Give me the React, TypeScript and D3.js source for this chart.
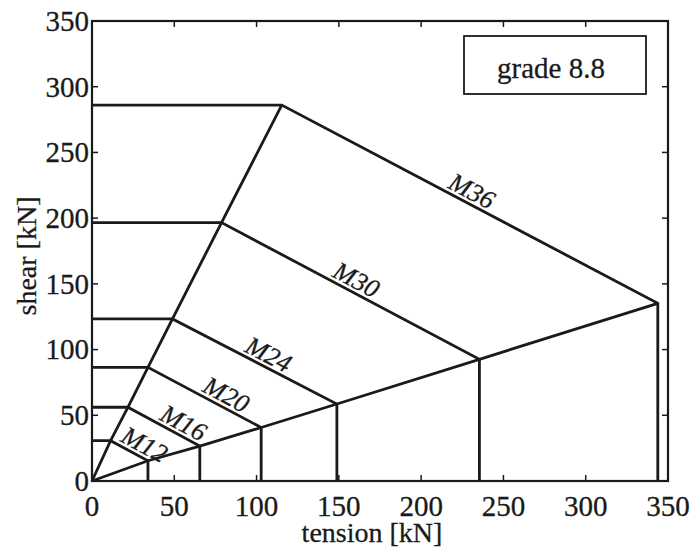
import React from "react";
import * as d3 from "d3";

// Bolt sizes (grade 8.8) and interaction-diagram values
const bolts = ["M12", "M16", "M20", "M24", "M30", "M36"];
// pure-shear capacity (horizontal plateau level) [kN]
const shearMax = [30.7, 56.1, 86.5, 123.3, 196.6, 286];
// tension at the end of the shear plateau [kN]
const kneeTension = [11.3, 21.8, 34, 48.9, 78.7, 115.3];
// pure-tension capacity [kN]
const tensionMax = [34, 65.5, 102.8, 148.8, 235.4, 343.8];
// shear remaining at the tension capacity [kN]
const shearAtTensionMax = [15.4, 26.6, 40.7, 58.6, 92.6, 135.2];

const xTicks = [0, 50, 100, 150, 200, 250, 300, 350];
const yTicks = [0, 50, 100, 150, 200, 250, 300, 350];
const legendText = "grade 8.8";
const xLabel = "tension [kN]";
const yLabel = "shear [kN]";

// layout
const W = 695;
const H = 551;
const L = 92;
const R = 668;
const T = 21;
const B = 481;
const labelFrac = [0.75, 0.69, 0.64, 0.55, 0.5, 0.49];
const labelOffset = 12.5;

const ink = "#1a1a1a";
const serif = "'Liberation Serif', 'DejaVu Serif', serif";

export default function App() {
  const x = d3.scaleLinear().domain([0, 350]).range([L, R]);
  const y = d3.scaleLinear().domain([0, 350]).range([B, T]);
  const line = d3
    .line<[number, number]>()
    .x((d) => x(d[0]))
    .y((d) => y(d[1]));

  const upperRay: [number, number][] = [[0, 0], ...bolts.map((_, i) => [kneeTension[i], shearMax[i]] as [number, number])];
  const lowerRay: [number, number][] = [[0, 0], ...bolts.map((_, i) => [tensionMax[i], shearAtTensionMax[i]] as [number, number])];

  const tick = 6;

  return (
    <svg
      width={W}
      height={H}
      style={{ position: "absolute", left: 0, top: 0, background: "#fff" }}
      fontFamily={serif}
    >
      <rect x={0} y={0} width={W} height={H} fill="#fff" />
      {/* bolt curves */}
      {bolts.map((b, i) => {
        const pts: [number, number][] = [
          [0, shearMax[i]],
          [kneeTension[i], shearMax[i]],
          [tensionMax[i], shearAtTensionMax[i]],
          [tensionMax[i], 0],
        ];
        return <path key={b} d={line(pts) || ""} fill="none" stroke={ink} strokeWidth={2.8} strokeLinejoin="miter" />;
      })}
      <path d={line(upperRay) || ""} fill="none" stroke={ink} strokeWidth={2.8} />
      <path d={line(lowerRay) || ""} fill="none" stroke={ink} strokeWidth={2.8} />

      {/* labels along the sloped segments */}
      {bolts.map((b, i) => {
        const x1 = x(kneeTension[i]);
        const y1 = y(shearMax[i]);
        const x2 = x(tensionMax[i]);
        const y2 = y(shearAtTensionMax[i]);
        const f = labelFrac[i];
        const px = x1 + (x2 - x1) * f;
        const py = y1 + (y2 - y1) * f;
        const ang = Math.atan2(y2 - y1, x2 - x1);
        const nx = Math.sin(ang);
        const ny = -Math.cos(ang);
        const cx = px + nx * labelOffset;
        const cy = py + ny * labelOffset;
        return (
          <text
            key={b}
            x={0}
            y={0}
            transform={`translate(${cx},${cy}) rotate(${(ang * 180) / Math.PI})`}
            textAnchor="middle"
            dominantBaseline="central"
            fontStyle="italic"
            fontSize={26}
            fill={ink}
            stroke={ink}
            strokeWidth={0.3}
          >
            {b}
          </text>
        );
      })}

      {/* axes box */}
      <rect x={L} y={T} width={R - L} height={B - T} fill="none" stroke={ink} strokeWidth={2.2} />
      {xTicks.map((t) => (
        <g key={"xt" + t}>
          <line x1={x(t)} x2={x(t)} y1={B} y2={B - tick} stroke={ink} strokeWidth={1.5} />
          <line x1={x(t)} x2={x(t)} y1={T} y2={T + tick} stroke={ink} strokeWidth={1.5} />
          <text x={x(t)} y={516} textAnchor="middle" fontSize={29} fill={ink} stroke={ink} strokeWidth={0.3}>
            {t}
          </text>
        </g>
      ))}
      {yTicks.map((t) => (
        <g key={"yt" + t}>
          <line x1={L} x2={L + tick} y1={y(t)} y2={y(t)} stroke={ink} strokeWidth={1.5} />
          <line x1={R} x2={R - tick} y1={y(t)} y2={y(t)} stroke={ink} strokeWidth={1.5} />
          <text x={89} y={y(t)} dy="0.34em" textAnchor="end" fontSize={29} fill={ink} stroke={ink} strokeWidth={0.3}>
            {t}
          </text>
        </g>
      ))}

      <text x={372} y={542} textAnchor="middle" fontSize={28} fill={ink} stroke={ink} strokeWidth={0.3}>
        {xLabel}
      </text>
      <text
        transform={`translate(36,256) rotate(-90)`}
        textAnchor="middle"
        fontSize={28}
        fill={ink}
        stroke={ink}
        strokeWidth={0.3}
      >
        {yLabel}
      </text>

      {/* legend box */}
      <rect x={464} y={36} width={182} height={58} fill="#fff" stroke={ink} strokeWidth={1.8} />
      <text x={551} y={78} textAnchor="middle" fontSize={29} fill={ink} stroke={ink} strokeWidth={0.3}>
        {legendText}
      </text>
    </svg>
  );
}
